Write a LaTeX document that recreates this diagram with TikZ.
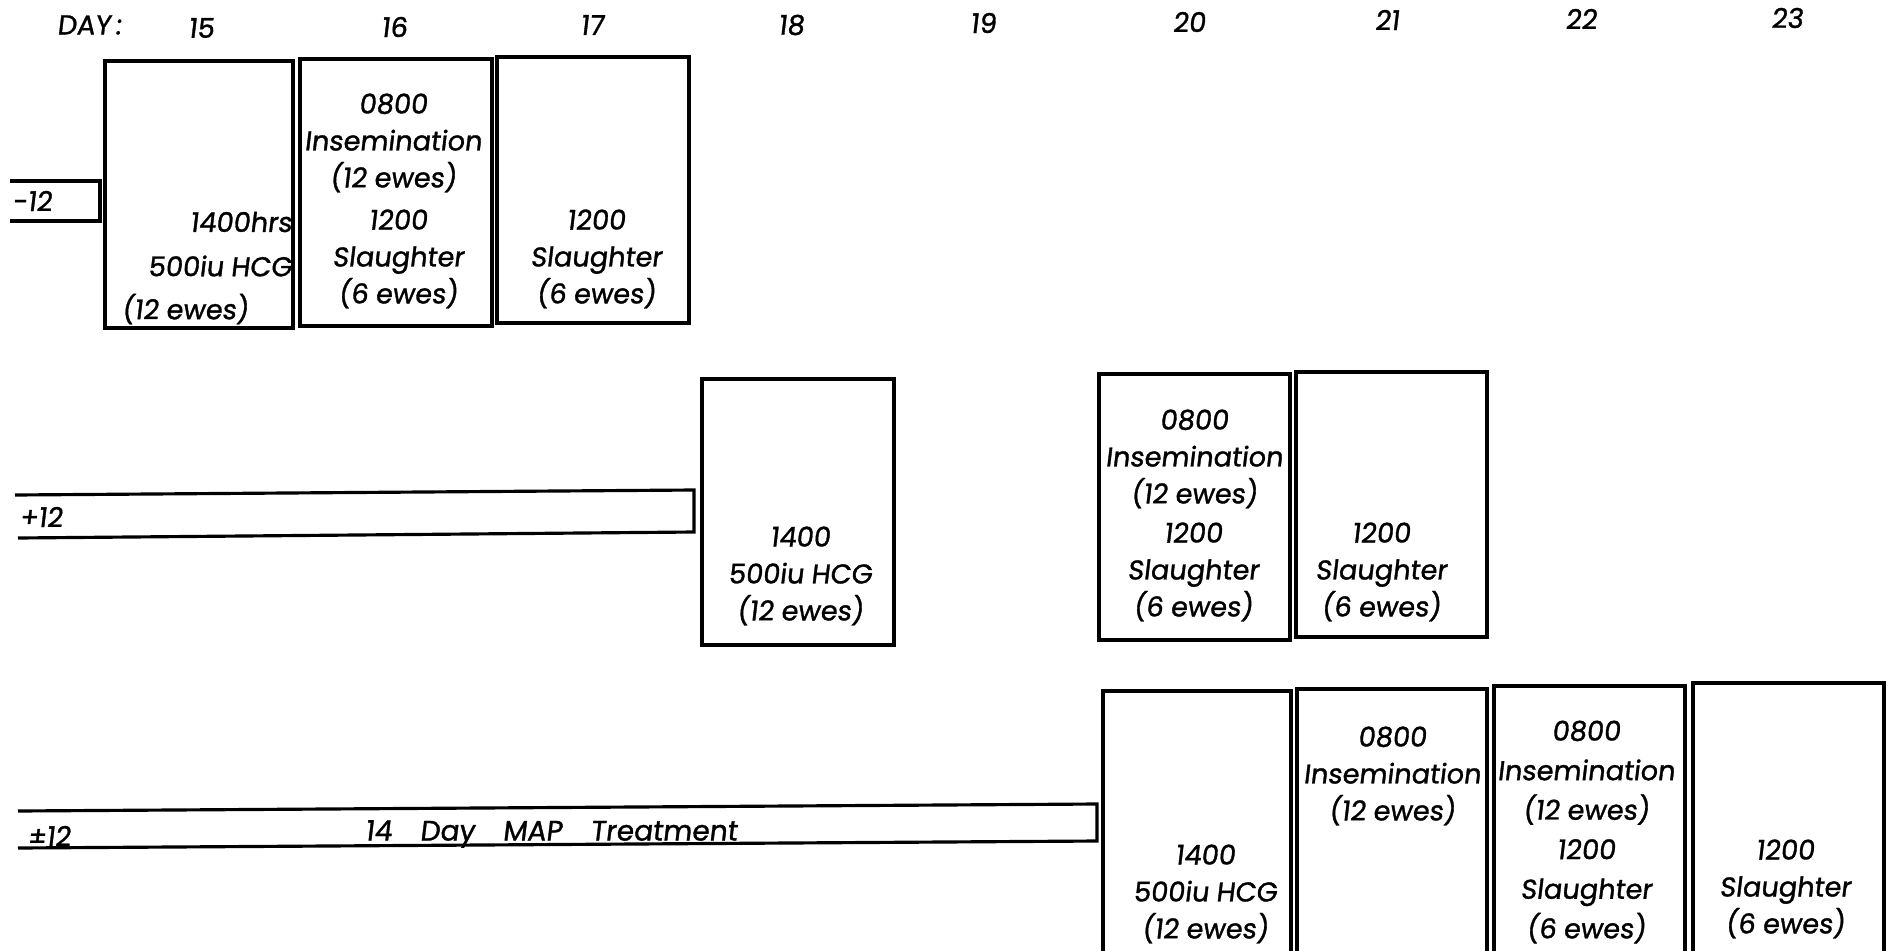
\documentclass[tikz,border=0pt]{standalone}
\usepackage{fontspec}
\setmainfont{Poppins}[FakeSlant=0.12, FakeBold=1.2, Numbers=Monospaced]
\usetikzlibrary{fit}

\begin{document}
\begin{tikzpicture}[
    x=0.02cm, y=-0.02cm,
    daybox/.style={draw, line width=1.8pt, inner sep=0pt},
    bar/.style={line width=1.8pt},
    lbl/.style={inner sep=0pt, align=center, font=\fontsize{15.5}{21}\selectfont}
  ]
    \useasboundingbox (0,0) rectangle (1892,950);
    \clip (0,0) rectangle (1892,950);
    \node[lbl] (day) at (89,25) {DAY\,:};
    \foreach \d/\x/\y in {15/201/28, 16/394/27, 17/592/25, 18/791/25, 19/983/23,
                          20/1189/22, 21/1387/20, 22/1581/19, 23/1787/18}
      \node[lbl] (d\d) at (\x,\y) {\d};

    \node[daybox, fit={(105,61) (293,328)}] (b15) {};
    \node[daybox, fit={(300,59) (492,326)}] (b16) {};
    \node[daybox, fit={(497,57) (689,323)}] (b17) {};
    \draw[bar] (10,181) -- (100,181) -- (100,221) -- (10,221);
    \node[lbl, anchor=west] (minus) at (12,201) {-12};
    \node[lbl, anchor=east] (hcgtime) at (292,222) {1400hrs};
    \node[lbl, anchor=east] (hcgdose) at (292,266) {500iu HCG};
    \node[lbl] (hcgewes) at (185,309) {(12 ewes)};
    \node[lbl] (ins16) at (393,143) {0800\\Insemination\\(12 ewes)};
    \node[lbl] (sl16) at (398,259) {1200\\Slaughter\\(6 ewes)};
    \node[lbl] (sl17) at (596,259) {1200\\Slaughter\\(6 ewes)};

    \node[daybox, fit={(702,379) (894,645)}] (b18) {};
    \node[daybox, fit={(1099,374) (1290,640)}] (b20) {};
    \node[daybox, fit={(1296,372) (1487,637)}] (b21) {};
    \draw[bar] (15,495) -- (694,490) -- (694,532) -- (18,538);
    \node[lbl, anchor=west] (plus) at (19,517) {+12};
    \node[lbl] (hcg18) at (800,576) {1400\\500iu HCG\\(12 ewes)};
    \node[lbl] (ins20) at (1194,459) {0800\\Insemination\\(12 ewes)};
    \node[lbl] (sl20) at (1193,572) {1200\\Slaughter\\(6 ewes)};
    \node[lbl] (sl21) at (1381,572) {1200\\Slaughter\\(6 ewes)};

    \node[daybox, fit={(1103,691) (1291,960)}] (c20) {};
    \node[daybox, fit={(1297,689) (1487,960)}] (c21) {};
    \node[daybox, fit={(1494,686) (1685,960)}] (c22) {};
    \node[daybox, fit={(1693,683) (1884,960)}] (c23) {};
    \draw[bar] (18,811) -- (1097,804) -- (1097,841) -- (18,848);
    \node[lbl, anchor=west] (pm) at (27,836) {±12};
    \node[lbl, font=\fontsize{16}{20}\selectfont] (map) at (551,834) {14\quad Day\quad MAP\quad Treatment};
    \node[lbl] (hcg20) at (1205,894) {1400\\500iu HCG\\(12 ewes)};
    \node[lbl] (ins21) at (1392,776) {0800\\Insemination\\(12 ewes)};
    \node[lbl, font=\fontsize{15.5}{22.5}\selectfont] (inssl22) at (1586,832) {0800\\Insemination\\(12 ewes)\\1200\\Slaughter\\(6 ewes)};
    \node[lbl] (sl23) at (1785,889) {1200\\Slaughter\\(6 ewes)};
  \end{tikzpicture}
\end{document}
